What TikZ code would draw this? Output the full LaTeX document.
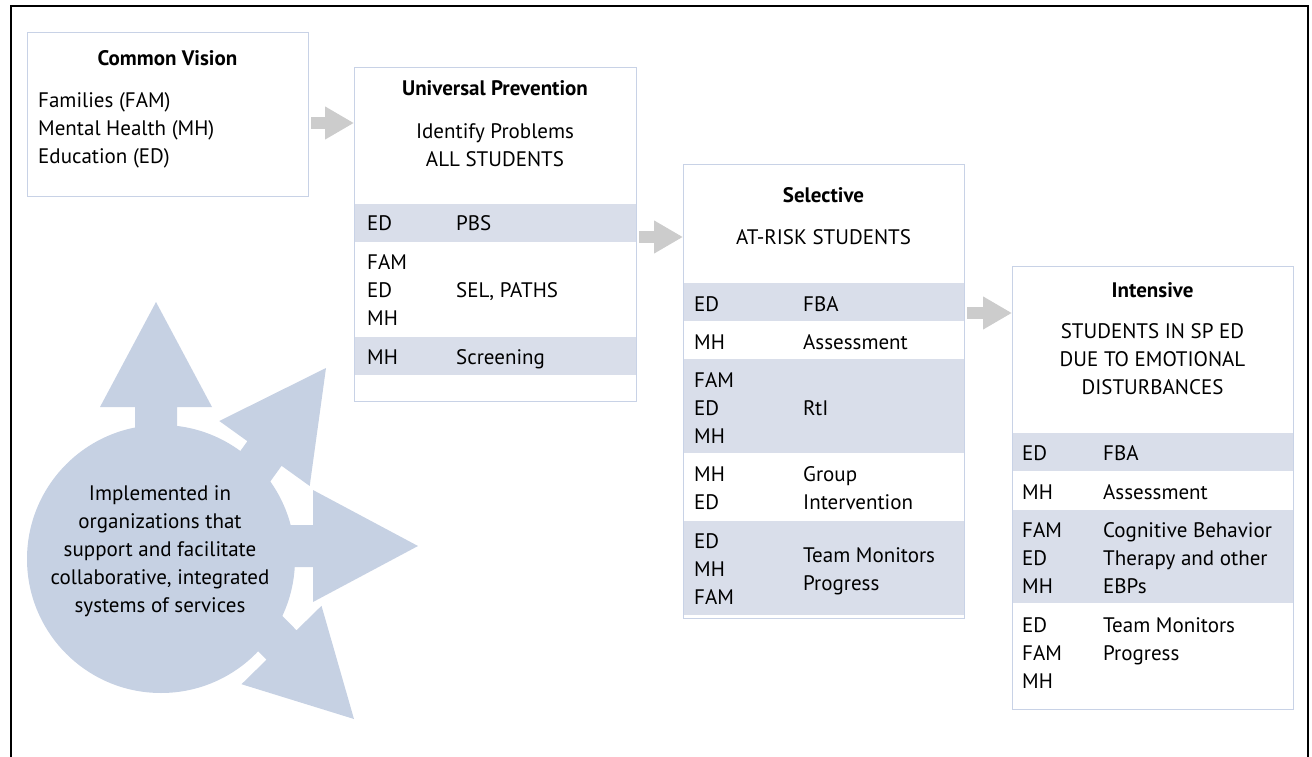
\documentclass[tikz,border=0pt]{standalone}
\usepackage{fontspec}
\setmainfont{PT Sans}
\usetikzlibrary{arrows.meta}
\definecolor{boxline}{HTML}{C8D2E6}
\definecolor{bandfill}{HTML}{D9DEEA}
\definecolor{hubfill}{HTML}{C6D1E3}
\definecolor{flowgray}{HTML}{CCCCCC}
\newcommand{\mys}{\rule[-5.3pt]{0pt}{25.3pt}}
\tikzset{
  panel/.style={draw=boxline, line width=1.3pt, anchor=north west, inner sep=0pt},
  band/.style={fill=bandfill},
  txt/.style={anchor=west, inner sep=0pt, align=left, font=\fontsize{21}{28}\selectfont},
  ctxt/.style={anchor=center, inner sep=0pt, align=center, font=\fontsize{21}{28}\selectfont},
  ttl/.style={anchor=center, inner sep=0pt, font=\fontsize{21}{28}\selectfont\bfseries},
  flow/.style={draw=flowgray, line width=12pt, -{Triangle[width=31pt,length=29pt]}, shorten <=2pt},
  hubarrow/.style={fill=hubfill}
}
\begin{document}
\begin{tikzpicture}[x=1pt,y=-1pt]
\useasboundingbox (0,0) rectangle (1312,757);
% outer frame
\draw[black, line width=1.3pt] (11,757) -- (11,6) -- (1308,6) -- (1308,757);

% ---- Common Vision
\node[panel, minimum width=281pt, minimum height=164pt] (cv) at (27,32) {};
\node[ttl] (cvt) at (167.5,58) {\mys Common Vision};
\node[txt] (cvl) at (38,128) {\mys Families (FAM)\\\mys Mental Health (MH)\\\mys Education (ED)};

% ---- Universal Prevention
\fill[band] (354,204) rectangle (636,242);
\fill[band] (354,337) rectangle (636,375);
\node[panel, minimum width=282pt, minimum height=334pt] (up) at (354,67) {};
\node[ttl] (upt) at (495,88) {\mys Universal Prevention};
\node[ctxt] (ups) at (495,145) {\mys Identify Problems\\\mys ALL STUDENTS};
\node[txt] (upa1) at (367,223) {\mys ED};
\node[txt] (upb1) at (456,223) {\mys PBS};
\node[txt] (upa2) at (367,290) {\mys FAM\\\mys ED\\\mys MH};
\node[txt] (upb2) at (456,290) {\mys SEL, PATHS};
\node[txt] (upa3) at (367,357) {\mys MH};
\node[txt] (upb3) at (456,357) {\mys Screening};

% ---- Selective
\fill[band] (683,283) rectangle (964,321);
\fill[band] (683,359) rectangle (964,453);
\fill[band] (683,521) rectangle (964,615);
\node[panel, minimum width=281pt, minimum height=454pt] (sel) at (683,164) {};
\node[ttl] (selt) at (823.5,195) {\mys Selective};
\node[ctxt] (sels) at (823.5,237) {\mys AT-RISK STUDENTS};
\node[txt] (sela1) at (694,304) {\mys ED};
\node[txt] (selb1) at (803,304) {\mys FBA};
\node[txt] (sela2) at (694,342) {\mys MH};
\node[txt] (selb2) at (803,342) {\mys Assessment};
\node[txt] (sela3) at (694,408) {\mys FAM\\\mys ED\\\mys MH};
\node[txt] (selb3) at (803,408) {\mys RtI};
\node[txt] (sela4) at (694,488.5) {\mys MH\\\mys ED};
\node[txt] (selb4) at (803,488.5) {\mys Group\\\mys Intervention};
\node[txt] (sela5) at (694,569.5) {\mys ED\\\mys MH\\\mys FAM};
\node[txt] (selb5) at (803,569) {\mys Team Monitors\\\mys Progress};

% ---- Intensive
\fill[band] (1012,433) rectangle (1293,471);
\fill[band] (1012,510) rectangle (1293,603);
\node[panel, minimum width=281pt, minimum height=443pt] (int) at (1012,266) {};
\node[ttl] (intt) at (1152.5,290) {\mys Intensive};
\node[ctxt] (ints) at (1152.5,359) {\mys STUDENTS IN SP ED\\\mys DUE TO EMOTIONAL\\\mys DISTURBANCES};
\node[txt] (inta1) at (1022,453) {\mys ED};
\node[txt] (intb1) at (1103,453) {\mys FBA};
\node[txt] (inta2) at (1022,492) {\mys MH};
\node[txt] (intb2) at (1103,492) {\mys Assessment};
\node[txt] (inta3) at (1022,558) {\mys FAM\\\mys ED\\\mys MH};
\node[txt] (intb3) at (1103,558) {\mys Cognitive Behavior\\\mys Therapy and other\\\mys EBPs};
\node[txt] (inta4) at (1022,653) {\mys ED\\\mys FAM\\\mys MH};
\node[txt] (intb4) at (1103,639) {\mys Team Monitors\\\mys Progress};

% ---- flow arrows
\draw[flow] (cv.east |- 0,123) -- (up.west |- 0,123);
\draw[flow] (up.east |- 0,237) -- (sel.west |- 0,237);
\draw[flow] (sel.east |- 0,313) -- (int.west |- 0,313);

% ---- hub circle with radiating arrows
\node[circle, fill=hubfill, minimum size=268pt, inner sep=0pt] (hub) at (161,559) {};
\fill[hubarrow] (135,440) -- (135,407) -- (100,407) -- (156,302) -- (212,407) -- (177,407) -- (177,440) -- cycle;
\fill[hubarrow] (212.2,490) -- (247.4,441.2) -- (219.3,421) -- (326,368) -- (309.7,486) -- (281.6,465.8) -- (246.4,514.6) -- cycle;
\fill[hubarrow] (270,525) -- (313,525) -- (313,490) -- (418,546) -- (313,602) -- (313,567) -- (270,567) -- cycle;
\fill[hubarrow] (254.5,587.5) -- (296.5,630.3) -- (321.5,605.8) -- (354,719) -- (241.5,684.2) -- (266.5,659.7) -- (224.5,616.9) -- cycle;
\node[ctxt] (hubt) at (160,549) {\mys Implemented in\\\mys organizations that\\\mys support and facilitate\\\mys collaborative, integrated\\\mys systems of services};
\end{tikzpicture}
\end{document}
